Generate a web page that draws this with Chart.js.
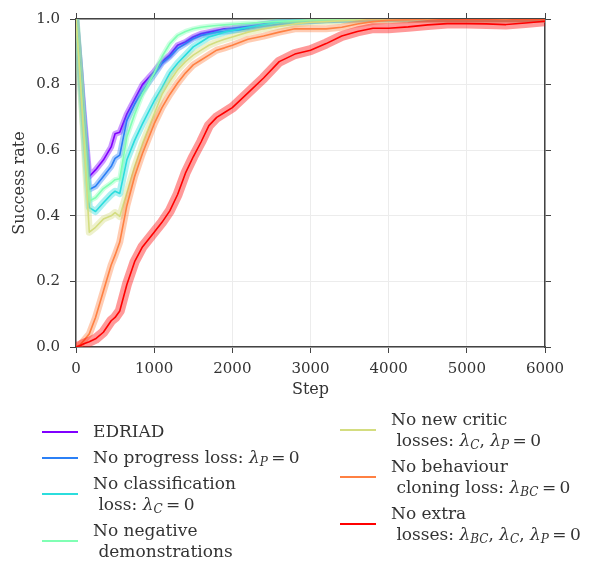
<!DOCTYPE html>
<html>
<head>
<meta charset="utf-8">
<script src="https://cdn.jsdelivr.net/npm/chart.js@4.4.1/dist/chart.umd.min.js"></script>
<style>
  html, body { margin: 0; padding: 0; background: #fff; }
  #wrap { position: relative; width: 591px; height: 561px; overflow: hidden; }
  #chart { position: absolute; left: 0; top: 0; }
  .legcol { position: absolute; font-family: 'DejaVu Serif', serif; font-size: 17px; color: #333; }
  .legitem { display: flex; align-items: center; margin-bottom: 5px; }
  .legitem .sw { width: 36px; height: 2px; margin-right: 15px; flex: none; }
  .legitem .txt { line-height: 21px; white-space: pre; }
  .txt i { font-style: italic; }
  .txt sub { font-size: 12px; vertical-align: -3px; line-height: 0; }
</style>
</head>
<body>
<div id="wrap">
  <canvas id="chart" width="591" height="561"></canvas>
  <div class="legcol" id="legLeft" style="left:42px; top:421px;"></div>
  <div class="legcol" id="legRight" style="left:340px; top:409px;"></div>
</div>
<script>
// --- DATA ---
const steps = [0, 50, 100, 170, 250, 350, 450, 500, 560, 650, 750, 850, 1000, 1100, 1200, 1300, 1400, 1500, 1600, 1700, 1800, 1900, 2000, 2200, 2400, 2600, 2800, 3000, 3200, 3400, 3600, 3800, 4000, 4250, 4500, 4750, 5000, 5250, 5500, 5750, 6000];

const edriad      = [1.0, 0.86, 0.71, 0.52, 0.54, 0.57, 0.61, 0.65, 0.655, 0.71, 0.755, 0.80, 0.84, 0.87, 0.89, 0.92, 0.93, 0.945, 0.955, 0.96, 0.965, 0.97, 0.972, 0.978, 0.985, 0.99, 0.993, 0.995, 0.997, 0.998, 0.999, 1.0, 1.0, 1.0, 1.0, 1.0, 1.0, 1.0, 1.0, 1.0, 1.0];
const noProgress  = [1.0, 0.85, 0.69, 0.48, 0.49, 0.52, 0.55, 0.575, 0.585, 0.69, 0.74, 0.78, 0.83, 0.865, 0.885, 0.91, 0.925, 0.94, 0.95, 0.955, 0.96, 0.962, 0.965, 0.97, 0.978, 0.985, 0.99, 0.993, 0.996, 0.998, 0.999, 1.0, 1.0, 1.0, 1.0, 1.0, 1.0, 1.0, 1.0, 1.0, 1.0];
const noClassif   = [1.0, 0.84, 0.66, 0.425, 0.413, 0.44, 0.465, 0.475, 0.468, 0.57, 0.63, 0.68, 0.75, 0.79, 0.835, 0.865, 0.89, 0.915, 0.93, 0.945, 0.952, 0.96, 0.965, 0.975, 0.982, 0.99, 0.992, 0.995, 0.997, 0.998, 1.0, 1.0, 1.0, 1.0, 1.0, 1.0, 1.0, 1.0, 1.0, 1.0, 1.0];
const noNegDemos  = [1.0, 0.84, 0.67, 0.445, 0.455, 0.483, 0.50, 0.51, 0.513, 0.64, 0.71, 0.77, 0.835, 0.885, 0.925, 0.95, 0.962, 0.97, 0.975, 0.978, 0.98, 0.982, 0.984, 0.987, 0.99, 0.993, 0.995, 0.997, 0.998, 0.999, 1.0, 1.0, 1.0, 1.0, 1.0, 1.0, 1.0, 1.0, 1.0, 1.0, 1.0];
const noCritic    = [1.0, 0.83, 0.64, 0.35, 0.365, 0.39, 0.40, 0.41, 0.398, 0.47, 0.55, 0.62, 0.71, 0.77, 0.81, 0.845, 0.87, 0.89, 0.905, 0.92, 0.93, 0.938, 0.945, 0.96, 0.97, 0.978, 0.985, 0.99, 0.992, 0.995, 0.997, 1.0, 1.0, 1.0, 1.0, 1.0, 1.0, 1.0, 1.0, 1.0, 1.0];
const noBC        = [0.0, 0.006, 0.02, 0.04, 0.09, 0.17, 0.25, 0.28, 0.32, 0.43, 0.52, 0.59, 0.68, 0.73, 0.77, 0.805, 0.835, 0.86, 0.875, 0.89, 0.905, 0.912, 0.92, 0.938, 0.948, 0.96, 0.97, 0.97, 0.97, 0.975, 0.985, 0.992, 0.996, 0.998, 1.0, 1.0, 1.0, 1.0, 1.0, 1.0, 1.0];
const noExtra     = [0.0, 0.004, 0.01, 0.016, 0.025, 0.045, 0.08, 0.09, 0.11, 0.19, 0.26, 0.305, 0.35, 0.38, 0.415, 0.465, 0.53, 0.58, 0.625, 0.675, 0.70, 0.715, 0.73, 0.775, 0.82, 0.87, 0.893, 0.905, 0.925, 0.948, 0.962, 0.972, 0.972, 0.976, 0.982, 0.986, 0.986, 0.985, 0.983, 0.988, 0.993];

const xTicks = [0, 1000, 2000, 3000, 4000, 5000, 6000];
const yTicks = [0.0, 0.2, 0.4, 0.6, 0.8, 1.0];

const seriesValues = [edriad, noProgress, noClassif, noNegDemos, noCritic, noBC, noExtra];
const seriesColors = ['#8000ff', '#2b80f6', '#2bdddd', '#80ffb4', '#d4dd80', '#ff8042', '#ff0000'];
const bandWidths   = [6, 6, 7, 5, 7, 7, 10];

const lam = (s) => `<i>λ</i><sub><i>${s}</i></sub>`;
const seriesLabels = [
    'EDRIAD',
    `No progress loss: ${lam('P')}\u2009=\u20090`,
    `No classification\n loss: ${lam('C')}\u2009=\u20090`,
    'No negative\n demonstrations',
    `No new critic\n losses: ${lam('C')}, ${lam('P')}\u2009=\u20090`,
    `No behaviour\n cloning loss: ${lam('BC')}\u2009=\u20090`,
    `No extra\n losses: ${lam('BC')}, ${lam('C')}, ${lam('P')}\u2009=\u20090`
];

// --- HELPERS ---
function hexToRgba(hex, a) {
    const n = parseInt(hex.slice(1), 16);
    return `rgba(${(n >> 16) & 255}, ${(n >> 8) & 255}, ${n & 255}, ${a})`;
}

const FONT = "'DejaVu Serif', serif";
const TEXT = '#333333';
const AXIS = '#444444';
const GRID = '#ececec';

// --- DATASETS: translucent band under each line ---
const datasets = [];
seriesValues.forEach((vals, i) => {
    const pts = steps.map((s, k) => ({ x: s, y: vals[k] }));
    datasets.push({
        data: pts,
        borderColor: hexToRgba(seriesColors[i], 0.4),
        borderWidth: bandWidths[i],
        borderJoinStyle: 'round',
        borderCapStyle: 'round',
        pointRadius: 0,
        tension: 0,
        clip: 0,
        order: 100 - 2 * i
    });
    datasets.push({
        data: pts,
        borderColor: seriesColors[i],
        borderWidth: 1.6,
        borderJoinStyle: 'round',
        pointRadius: 0,
        tension: 0,
        clip: 0,
        order: 99 - 2 * i
    });
});

// --- CHART ---
Chart.defaults.font.family = FONT;
Chart.defaults.color = TEXT;

const tickFont = { family: FONT, size: 15 };
const titleFont = { family: FONT, size: 16 };

new Chart(document.getElementById('chart').getContext('2d'), {
    type: 'line',
    data: { datasets },
    options: {
        responsive: false,
        animation: false,
        layout: { padding: { left: 0, right: 40, top: 9, bottom: 159 } },
        plugins: { legend: { display: false }, tooltip: { enabled: false } },
        scales: {
            x: {
                type: 'linear', position: 'bottom', min: 0, max: 6000,
                afterBuildTicks: s => { s.ticks = xTicks.map(v => ({ value: v })); },
                ticks: { font: tickFont, color: TEXT, padding: 7, maxRotation: 0, callback: v => String(v) },
                grid: { color: GRID, tickColor: AXIS, tickLength: 6 },
                border: { color: AXIS, width: 1.5 },
                title: { display: true, text: 'Step', font: titleFont, color: TEXT, padding: { top: 0, bottom: 3 } },
                afterFit: s => { s.height = 55; }
            },
            x2: {
                type: 'linear', position: 'top', min: 0, max: 6000,
                afterBuildTicks: s => { s.ticks = xTicks.map(v => ({ value: v })); },
                ticks: { display: false },
                grid: { drawOnChartArea: false, tickColor: AXIS, tickLength: 6 },
                border: { color: AXIS, width: 1.5 },
                afterFit: s => { s.height = 6; }
            },
            y: {
                type: 'linear', position: 'left', min: 0, max: 1,
                afterBuildTicks: s => { s.ticks = yTicks.map(v => ({ value: v })); },
                ticks: { font: tickFont, color: TEXT, padding: 10, callback: v => v.toFixed(1) },
                grid: { color: GRID, tickColor: AXIS, tickLength: 6 },
                border: { color: AXIS, width: 1.5 },
                title: { display: true, text: 'Success rate', font: titleFont, color: TEXT, padding: { top: 10, bottom: 0 } },
                afterFit: s => { s.width = 76; }
            },
            y2: {
                type: 'linear', position: 'right', min: 0, max: 1,
                afterBuildTicks: s => { s.ticks = yTicks.map(v => ({ value: v })); },
                ticks: { display: false },
                grid: { drawOnChartArea: false, tickColor: AXIS, tickLength: 6 },
                border: { color: AXIS, width: 1.5 },
                afterFit: s => { s.width = 6; }
            }
        }
    }
});

// --- LEGEND (two columns, below the plot) ---
function addLegendItem(col, i) {
    const item = document.createElement('div');
    item.className = 'legitem';
    const sw = document.createElement('div');
    sw.className = 'sw';
    sw.style.background = seriesColors[i];
    const txt = document.createElement('div');
    txt.className = 'txt';
    txt.innerHTML = seriesLabels[i];
    item.appendChild(sw);
    item.appendChild(txt);
    col.appendChild(item);
}
const legLeft = document.getElementById('legLeft');
const legRight = document.getElementById('legRight');
[0, 1, 2, 3].forEach(i => addLegendItem(legLeft, i));
[4, 5, 6].forEach(i => addLegendItem(legRight, i));
</script>
</body>
</html>
